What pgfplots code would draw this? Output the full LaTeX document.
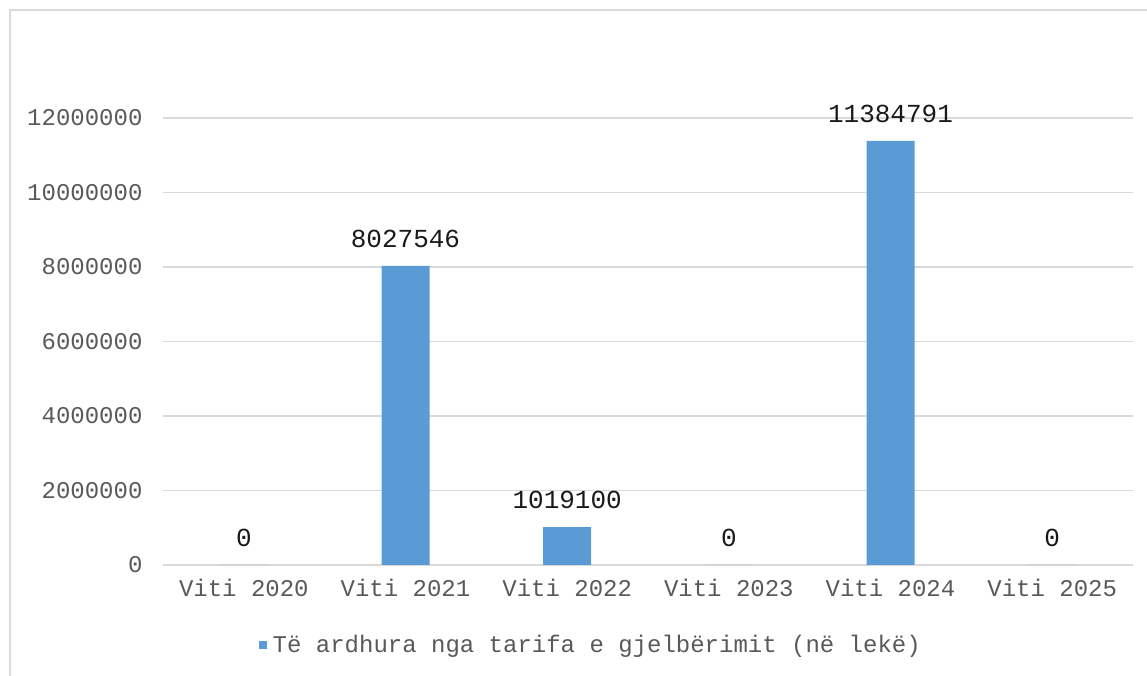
\documentclass[border=0pt]{standalone}
\usepackage{pgfplots}
\pgfplotsset{compat=1.18}
\usepackage{pgfplotstable}
\usepackage{fontspec}
\setmainfont{Liberation Mono}
\definecolor{barblue}{RGB}{91,155,213}
\definecolor{gridgray}{RGB}{217,217,217}
\definecolor{txtgray}{RGB}{89,89,89}
\pgfplotstableread{
x label y
0 0 0
1 8027546 8027546
2 1019100 1019100
3 0 0
4 11384791 11384791
5 0 0
}\datatable
\begin{document}
\begin{tikzpicture}[x=1pt,y=1pt]
\useasboundingbox (0,0) rectangle (1147,676);
\clip (0,0) rectangle (1147,676);
\draw[gridgray, line width=1.5pt] (10,-10) rectangle (1160,666);
\begin{axis}[
  at={(163pt,111pt)}, anchor=south west,
  width=970pt, height=447pt, scale only axis,
  xmin=-0.5, xmax=5.5, ymin=0, ymax=12000000,
  axis line style={draw=none},
  ymajorgrids, grid style={gridgray, line width=1.5pt},
  ytick={0,2000000,4000000,6000000,8000000,10000000,12000000},
  scaled y ticks=false,
  yticklabel style={/pgf/number format/fixed, /pgf/number format/1000 sep={}, xshift=-17pt},
  /pgf/number format/assume math mode=true,
  major tick length=0pt,
  xtick={0,1,2,3,4,5},
  xticklabels={Viti 2020,Viti 2021,Viti 2022,Viti 2023,Viti 2024,Viti 2025},
  xticklabel style={yshift=-11pt},
  ticklabel style={font=\fontsize{24}{28}\selectfont, text=txtgray},
  legend style={at={(0.441,-0.179)}, anchor=center, draw=none, fill=none,
    font=\fontsize{24}{28}\selectfont, text=txtgray,
    /tikz/every even column/.append style={column sep=0pt}},
  legend image code/.code={\fill[barblue] (0pt,-4pt) rectangle (8pt,4pt);},
]
\addplot[ybar, bar width=48pt, fill=barblue, draw=none,
  nodes near coords, point meta=explicit symbolic,
  every node near coord/.append style={anchor=center, yshift=27pt,
    font=\fontsize{26}{30}\selectfont, text=black!90}]
  table[x=x, y=y, meta=label]{\datatable};
\addlegendentry{\hspace{4pt}Të ardhura nga tarifa e gjelbërimit (në lekë)}
\end{axis}
\end{tikzpicture}
\end{document}
